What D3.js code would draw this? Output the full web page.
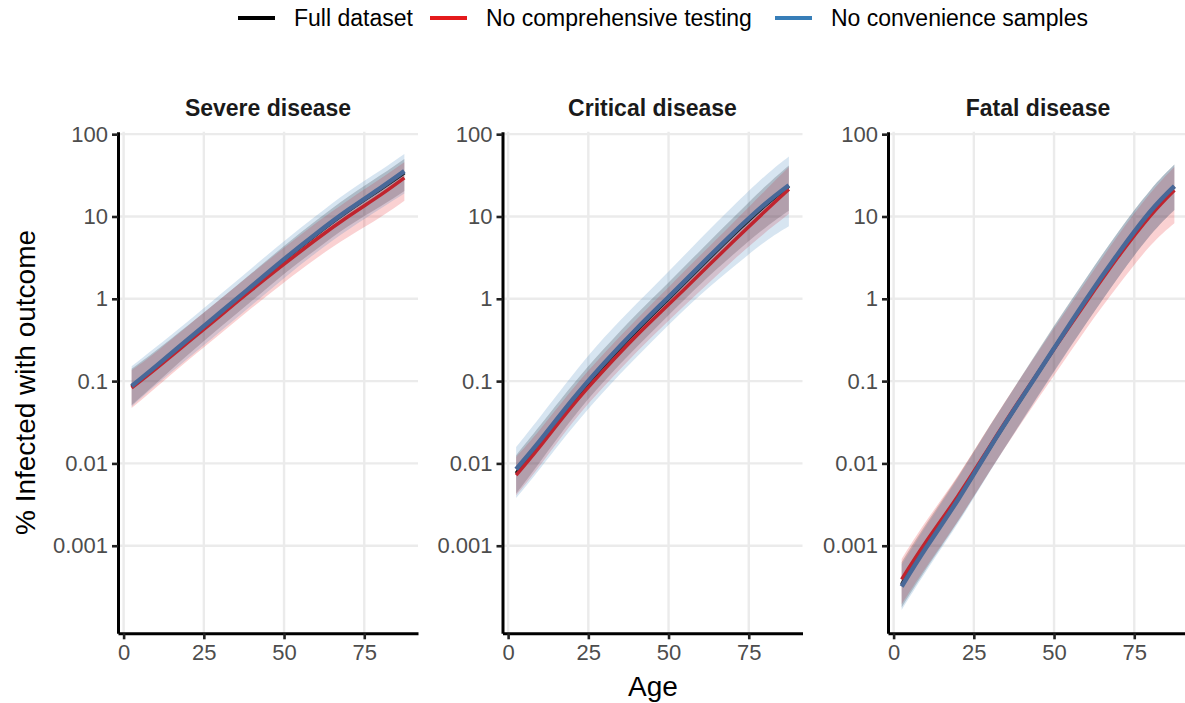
<!DOCTYPE html>
<html>
<head>
<meta charset="utf-8">
<script src="https://cdn.jsdelivr.net/npm/d3@7"></script>
<style>
  body { margin: 0; background: #fff; }
  svg { font-family: "Liberation Sans", Arial, sans-serif; }
</style>
</head>
<body>
<div id="chart"></div>
<script>
const ages = [2.5, 10, 20, 30, 40, 50, 60, 70, 80, 87.5];

const panelTitles = ["Severe disease", "Critical disease", "Fatal disease"];
const seriesNames = ["Full dataset", "No comprehensive testing", "No convenience samples"];
const yTicks = [100, 10, 1, 0.1, 0.01, 0.001];
const xTicks = [0, 25, 50, 75];

// Severe disease (% infected)
const severeFull     = [0.085, 0.148, 0.313, 0.661, 1.40, 2.95, 6.03, 11.7, 21.4, 33.9];
const severeFullLo   = [0.051, 0.093, 0.207, 0.447, 0.944, 2.0, 3.98, 7.59, 13.2, 20.4];
const severeFullHi   = [0.141, 0.234, 0.473, 0.977, 2.07, 4.37, 8.91, 17.4, 31.6, 50.1];
const severeNoComp   = [0.083, 0.141, 0.295, 0.617, 1.29, 2.63, 5.25, 10.0, 18.2, 29.5];
const severeNoCompLo = [0.047, 0.083, 0.178, 0.372, 0.776, 1.58, 3.09, 5.62, 9.77, 15.5];
const severeNoCompHi = [0.135, 0.224, 0.468, 0.977, 2.04, 4.17, 8.32, 15.8, 28.8, 45.7];
const severeNoConv   = [0.087, 0.151, 0.32, 0.676, 1.43, 3.02, 6.17, 12.0, 22.1, 35.5];
const severeNoConvLo = [0.049, 0.089, 0.188, 0.398, 0.841, 1.78, 3.63, 6.92, 12.4, 19.0];
const severeNoConvHi = [0.151, 0.257, 0.531, 1.12, 2.37, 5.01, 10.2, 20.0, 36.3, 57.5];

// Critical disease
const criticalFull     = [0.0076, 0.0178, 0.056, 0.158, 0.41, 1.0, 2.45, 5.9, 13.5, 23.4];
const criticalFullLo   = [0.0043, 0.0105, 0.035, 0.10, 0.257, 0.63, 1.51, 3.4, 7.2, 11.7];
const criticalFullHi   = [0.0126, 0.029, 0.089, 0.25, 0.65, 1.58, 3.9, 9.5, 22.9, 41.7];
const criticalNoComp   = [0.0072, 0.0162, 0.050, 0.138, 0.355, 0.85, 2.04, 4.9, 11.5, 21.4];
const criticalNoCompLo = [0.0041, 0.0095, 0.031, 0.087, 0.224, 0.54, 1.26, 2.9, 6.3, 10.7];
const criticalNoCompHi = [0.012, 0.026, 0.079, 0.219, 0.56, 1.38, 3.4, 8.3, 20.4, 39.8];
const criticalNoConv   = [0.0085, 0.019, 0.059, 0.166, 0.43, 1.05, 2.57, 6.2, 14.1, 24.0];
const criticalNoConvLo = [0.0038, 0.0087, 0.027, 0.076, 0.195, 0.48, 1.12, 2.4, 4.9, 7.6];
const criticalNoConvHi = [0.0158, 0.037, 0.117, 0.34, 0.87, 2.14, 5.4, 13.2, 30.9, 53.7];

// Fatal disease
const fatalFull     = [0.00034, 0.00099, 0.0037, 0.0155, 0.063, 0.25, 0.95, 3.47, 11.2, 22.9];
const fatalFullLo   = [0.000178, 0.00051, 0.00195, 0.0081, 0.033, 0.132, 0.50, 1.82, 5.9, 12.0];
const fatalFullHi   = [0.00063, 0.00181, 0.0069, 0.0288, 0.117, 0.47, 1.78, 6.5, 20.9, 42.7];
const fatalNoComp   = [0.00039, 0.0011, 0.0040, 0.0162, 0.065, 0.245, 0.91, 3.24, 10.2, 20.9];
const fatalNoCompLo = [0.000195, 0.00054, 0.0020, 0.0081, 0.0316, 0.117, 0.43, 1.45, 4.4, 8.3];
const fatalNoCompHi = [0.00069, 0.00195, 0.0071, 0.0288, 0.115, 0.44, 1.62, 5.9, 19.1, 39.8];
const fatalNoConv   = [0.00032, 0.00093, 0.0036, 0.0155, 0.063, 0.25, 0.98, 3.55, 11.5, 23.4];
const fatalNoConvLo = [0.000166, 0.00048, 0.00186, 0.0079, 0.0324, 0.129, 0.50, 1.82, 5.9, 12.0];
const fatalNoConvHi = [0.00059, 0.00170, 0.0066, 0.0282, 0.115, 0.46, 1.78, 6.5, 20.9, 42.7];

const keyColors  = ["#000000", "#e41a1c", "#377eb8"];
const lineColors = ["#1a1a1a", "#c0242e", "#486898"];
const lineWidths = [3.5, 3.5, 4.5];

const panels = [
  [[severeFull, severeFullLo, severeFullHi], [severeNoComp, severeNoCompLo, severeNoCompHi], [severeNoConv, severeNoConvLo, severeNoConvHi]],
  [[criticalFull, criticalFullLo, criticalFullHi], [criticalNoComp, criticalNoCompLo, criticalNoCompHi], [criticalNoConv, criticalNoConvLo, criticalNoConvHi]],
  [[fatalFull, fatalFullLo, fatalFullHi], [fatalNoComp, fatalNoCompLo, fatalNoCompHi], [fatalNoConv, fatalNoConvLo, fatalNoConvHi]]
];

const w = 1185;
const h = 703;
const panelW = 300;
const panelX = [118, 502.5, 888];
const panelTop = 131.7;
const panelBottom = 633.3;

const svg = d3.select('#chart')
  .append('svg')
  .attr('width', w)
  .attr('height', h);

const y = d3.scaleLog()
  .domain([Math.pow(10, -4.064), Math.pow(10, 2.03)])
  .range([panelBottom, panelTop]);

panels.forEach((series, p) => {
  const x0 = panelX[p];
  const x = d3.scaleLinear()
    .domain([-1.75, 91.75])
    .range([x0, x0 + panelW]);

  const g = svg.append('g');

  // grid
  g.selectAll('.gy')
    .data(yTicks)
    .enter()
    .append('line')
    .attr('x1', x0).attr('x2', x0 + panelW)
    .attr('y1', d => y(d)).attr('y2', d => y(d))
    .attr('stroke', '#ebebeb').attr('stroke-width', 2.4);

  g.selectAll('.gx')
    .data(xTicks)
    .enter()
    .append('line')
    .attr('x1', d => x(d)).attr('x2', d => x(d))
    .attr('y1', panelTop).attr('y2', panelBottom)
    .attr('stroke', '#ebebeb').attr('stroke-width', 2.4);

  const area = d3.area()
    .x((d, i) => x(ages[i]))
    .y0(d => y(d[0]))
    .y1(d => y(d[1]))
    .curve(d3.curveNatural);

  const line = d3.line()
    .x((d, i) => x(ages[i]))
    .y(d => y(d))
    .curve(d3.curveNatural);

  // ribbons
  series.forEach((s, k) => {
    const band = s[1].map((lo, i) => [lo, s[2][i]]);
    g.append('path')
      .datum(band)
      .attr('d', area)
      .attr('fill', keyColors[k])
      .attr('fill-opacity', 0.2);
  });

  // lines
  series.forEach((s, k) => {
    g.append('path')
      .datum(s[0])
      .attr('d', line)
      .attr('fill', 'none')
      .attr('stroke', lineColors[k])
      .attr('stroke-width', lineWidths[k]);
  });

  // axes
  const yAxis = d3.axisLeft(y)
    .tickValues(yTicks)
    .tickFormat(d => String(d))
    .tickSize(6)
    .tickSizeOuter(0)
    .tickPadding(4);

  const xAxis = d3.axisBottom(x)
    .tickValues(xTicks)
    .tickSize(6)
    .tickSizeOuter(0)
    .tickPadding(5);

  const ya = g.append('g')
    .attr('transform', 'translate(' + x0 + ',0)')
    .call(yAxis);

  const xa = g.append('g')
    .attr('transform', 'translate(0,' + panelBottom + ')')
    .call(xAxis);

  [ya, xa].forEach(a => {
    a.select('.domain').attr('stroke', '#000').attr('stroke-width', 3);
    a.selectAll('.tick line').attr('stroke', '#222').attr('stroke-width', 2.6);
    a.selectAll('.tick text')
      .attr('fill', '#4d4d4d')
      .style('font-size', '22px')
      .style('font-family', '"Liberation Sans", Arial, sans-serif');
  });

  // panel title
  g.append('text')
    .attr('x', x0 + panelW / 2)
    .attr('y', 116)
    .attr('text-anchor', 'middle')
    .style('font-size', '23px')
    .style('font-weight', 'bold')
    .attr('fill', '#1a1a1a')
    .text(panelTitles[p]);
});

// axis titles
svg.append('text')
  .attr('x', 653)
  .attr('y', 696)
  .attr('text-anchor', 'middle')
  .style('font-size', '28px')
  .text('Age');

svg.append('text')
  .attr('transform', 'translate(35,' + (panelTop + panelBottom) / 2 + ') rotate(-90)')
  .attr('text-anchor', 'middle')
  .style('font-size', '28px')
  .text('% Infected with outcome');

// legend
const legendX = [238, 430, 775];
const legend = svg.append('g');
seriesNames.forEach((name, k) => {
  legend.append('line')
    .attr('x1', legendX[k]).attr('x2', legendX[k] + 37)
    .attr('y1', 18).attr('y2', 18)
    .attr('stroke', keyColors[k])
    .attr('stroke-width', 4);
  legend.append('text')
    .attr('x', legendX[k] + 56)
    .attr('y', 26)
    .style('font-size', '23px')
    .text(name);
});
</script>
</body>
</html>
